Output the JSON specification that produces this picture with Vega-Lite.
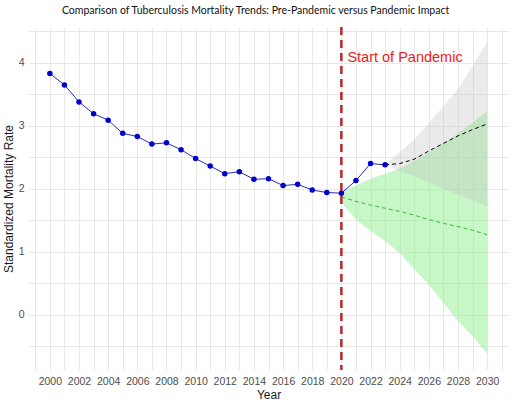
{
  "$schema": "https://vega.github.io/schema/vega-lite/v6.json",
  "width": 481,
  "height": 343,
  "autosize": {"type": "none"},
  "padding": {"left": 28, "top": 27, "right": 7, "bottom": 36},
  "background": "white",
  "title": {
    "text": "Comparison of Tuberculosis Mortality Trends: Pre-Pandemic versus Pandemic Impact",
    "font": "Lato",
    "fontSize": 10.5,
    "fontWeight": "normal",
    "color": "#111111",
    "anchor": "middle",
    "frame": "bounds",
    "offset": 9
  },
  "config": {
    "view": {"stroke": null},
    "axis": {
      "domain": false,
      "ticks": false,
      "gridColor": "#e8e8e8",
      "gridWidth": 1,
      "labelFont": "Liberation Sans",
      "labelFontSize": 10.5,
      "labelColor": "#4d4d4d",
      "titleFont": "Liberation Sans",
      "titleFontSize": 12,
      "titleFontWeight": "normal",
      "titleColor": "#1a1a1a",
      "labelOverlap": false,
      "labelFlush": false
    }
  },
  "datasets": {
    "observed": [
      {"year": 2000, "value": 3.83},
      {"year": 2001, "value": 3.65},
      {"year": 2002, "value": 3.38},
      {"year": 2003, "value": 3.19},
      {"year": 2004, "value": 3.09},
      {"year": 2005, "value": 2.88},
      {"year": 2006, "value": 2.83},
      {"year": 2007, "value": 2.71},
      {"year": 2008, "value": 2.73},
      {"year": 2009, "value": 2.62},
      {"year": 2010, "value": 2.48},
      {"year": 2011, "value": 2.36},
      {"year": 2012, "value": 2.24},
      {"year": 2013, "value": 2.27},
      {"year": 2014, "value": 2.15},
      {"year": 2015, "value": 2.16},
      {"year": 2016, "value": 2.05},
      {"year": 2017, "value": 2.07},
      {"year": 2018, "value": 1.98},
      {"year": 2019, "value": 1.94},
      {"year": 2020, "value": 1.93},
      {"year": 2021, "value": 2.13},
      {"year": 2022, "value": 2.40},
      {"year": 2023, "value": 2.38}
    ],
    "prepandemic": [
      {"year": 2020, "value": 1.87, "lo": 1.78, "hi": 1.95},
      {"year": 2021, "value": 1.80, "lo": 1.51, "hi": 2.05},
      {"year": 2022, "value": 1.74, "lo": 1.33, "hi": 2.16},
      {"year": 2023, "value": 1.69, "lo": 1.17, "hi": 2.24},
      {"year": 2024, "value": 1.64, "lo": 0.98, "hi": 2.32},
      {"year": 2025, "value": 1.58, "lo": 0.72, "hi": 2.44},
      {"year": 2026, "value": 1.51, "lo": 0.48, "hi": 2.57},
      {"year": 2027, "value": 1.45, "lo": 0.19, "hi": 2.72},
      {"year": 2028, "value": 1.40, "lo": -0.10, "hi": 2.88},
      {"year": 2029, "value": 1.34, "lo": -0.34, "hi": 3.05},
      {"year": 2030, "value": 1.27, "lo": -0.62, "hi": 3.24}
    ],
    "pandemic": [
      {"year": 2023, "value": 2.38, "lo": 2.38, "hi": 2.38},
      {"year": 2024, "value": 2.40, "lo": 2.28, "hi": 2.58},
      {"year": 2025, "value": 2.47, "lo": 2.20, "hi": 2.78},
      {"year": 2026, "value": 2.60, "lo": 2.10, "hi": 3.05},
      {"year": 2027, "value": 2.72, "lo": 2.00, "hi": 3.31},
      {"year": 2028, "value": 2.84, "lo": 1.91, "hi": 3.58},
      {"year": 2029, "value": 2.94, "lo": 1.82, "hi": 3.95},
      {"year": 2030, "value": 3.03, "lo": 1.72, "hi": 4.33}
    ],
    "onset": [
      {"year": 2020, "value": 4.08, "label": "Start of Pandemic"}
    ]
  },
  "layer": [
    {
      "data": {"name": "prepandemic"},
      "mark": {"type": "area", "color": "#90ee90", "opacity": 0.5},
      "encoding": {
        "x": {
          "field": "year",
          "type": "quantitative",
          "title": "Year",
          "scale": {"domain": [1998.5, 2031.5], "nice": false, "zero": false},
          "axis": {
            "values": [1999, 2000, 2001, 2002, 2003, 2004, 2005, 2006, 2007, 2008, 2009, 2010, 2011, 2012, 2013, 2014, 2015, 2016, 2017, 2018, 2019, 2020, 2021, 2022, 2023, 2024, 2025, 2026, 2027, 2028, 2029, 2030, 2031],
            "tickCount": 60,
            "format": "d",
            "labelExpr": "datum.value % 2 === 0 ? datum.label : ''",
            "labelPadding": 6,
            "titlePadding": 3
          }
        },
        "y": {
          "field": "lo",
          "type": "quantitative",
          "title": "Standardized Mortality Rate",
          "scale": {"domain": [-0.88, 4.57], "nice": false, "zero": false},
          "axis": {
            "values": [-0.5, 0, 0.5, 1, 1.5, 2, 2.5, 3, 3.5, 4, 4.5],
            "tickCount": 30,
            "format": "~g",
            "labelExpr": "datum.value % 1 === 0 ? datum.label : ''",
            "labelPadding": 4,
            "titlePadding": 3
          }
        },
        "y2": {"field": "hi"}
      }
    },
    {
      "data": {"name": "pandemic"},
      "mark": {"type": "area", "color": "#bebebe", "opacity": 0.3},
      "encoding": {
        "x": {"field": "year", "type": "quantitative", "title": "Year"},
        "y": {"field": "lo", "type": "quantitative", "title": "Standardized Mortality Rate"},
        "y2": {"field": "hi"}
      }
    },
    {
      "data": {"name": "prepandemic"},
      "mark": {"type": "line", "color": "#2fbf3a", "strokeWidth": 1, "strokeDash": [4, 3]},
      "encoding": {
        "x": {"field": "year", "type": "quantitative", "title": "Year"},
        "y": {"field": "value", "type": "quantitative", "title": "Standardized Mortality Rate"}
      }
    },
    {
      "data": {"name": "pandemic"},
      "mark": {"type": "line", "color": "#000000", "strokeWidth": 1, "strokeDash": [4, 3]},
      "encoding": {
        "x": {"field": "year", "type": "quantitative", "title": "Year"},
        "y": {"field": "value", "type": "quantitative", "title": "Standardized Mortality Rate"}
      }
    },
    {
      "data": {"name": "onset"},
      "mark": {"type": "rule", "color": "#b8262a", "strokeWidth": 2.5, "strokeDash": [8, 5]},
      "encoding": {
        "x": {"field": "year", "type": "quantitative", "title": "Year"}
      }
    },
    {
      "data": {"name": "observed"},
      "mark": {"type": "line", "color": "#2a2ab0", "strokeWidth": 1},
      "encoding": {
        "x": {"field": "year", "type": "quantitative", "title": "Year"},
        "y": {"field": "value", "type": "quantitative", "title": "Standardized Mortality Rate"}
      }
    },
    {
      "data": {"name": "observed"},
      "mark": {"type": "point", "filled": true, "color": "#0000cd", "size": 30, "opacity": 1},
      "encoding": {
        "x": {"field": "year", "type": "quantitative", "title": "Year"},
        "y": {"field": "value", "type": "quantitative", "title": "Standardized Mortality Rate"}
      }
    },
    {
      "data": {"name": "onset"},
      "mark": {"type": "text", "align": "left", "baseline": "middle", "dx": 6, "font": "Liberation Sans", "fontSize": 14.5, "color": "#ee1c1c"},
      "encoding": {
        "x": {"field": "year", "type": "quantitative", "title": "Year"},
        "y": {"field": "value", "type": "quantitative", "title": "Standardized Mortality Rate"},
        "text": {"field": "label"}
      }
    }
  ]
}
